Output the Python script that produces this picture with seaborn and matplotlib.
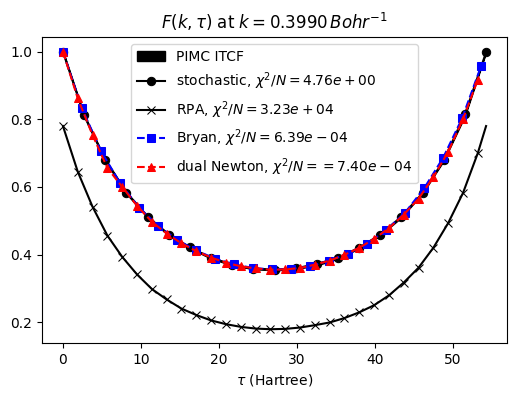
import numpy as np
import pandas as pd
import matplotlib
matplotlib.use("Agg")
import matplotlib.pyplot as plt
import seaborn as sns

# stochastic / PIMC grid (21 points)
tau_stoch = [0.0, 2.71, 5.43, 8.14, 10.85, 13.57, 16.28, 18.99, 21.71, 24.42, 27.13,
             29.84, 32.56, 35.27, 37.98, 40.70, 43.41, 46.12, 48.84, 51.55, 54.26]
F_stoch = [1.000, 0.812, 0.679, 0.582, 0.511, 0.458, 0.421, 0.390, 0.369, 0.358, 0.355,
           0.359, 0.372, 0.390, 0.420, 0.459, 0.512, 0.582, 0.679, 0.815, 0.998]
F_pimc = [1.000, 0.812, 0.680, 0.583, 0.512, 0.459, 0.420, 0.390, 0.370, 0.359, 0.355,
          0.359, 0.370, 0.390, 0.420, 0.459, 0.512, 0.583, 0.680, 0.812, 1.000]

# RPA (markers on a 1.9 grid, line closes at beta)
tau_rpa = [0.0, 1.9, 3.8, 5.7, 7.6, 9.5, 11.4, 13.3, 15.2, 17.1, 19.0, 20.9, 22.8, 24.7,
           26.6, 28.5, 30.4, 32.3, 34.2, 36.1, 38.0, 39.9, 41.8, 43.7, 45.6, 47.5, 49.4,
           51.3, 53.2, 54.26]
F_rpa = [0.780, 0.645, 0.541, 0.456, 0.393, 0.341, 0.298, 0.267, 0.240, 0.221, 0.205,
         0.194, 0.186, 0.181, 0.179, 0.180, 0.184, 0.191, 0.199, 0.212, 0.229, 0.250,
         0.279, 0.317, 0.361, 0.420, 0.493, 0.582, 0.700, 0.780]

# Bryan MaxEnt (23 points)
tau_bryan = [0.0, 2.44, 4.88, 7.31, 9.75, 12.19, 14.63, 17.06, 19.50, 21.94, 24.38, 26.82,
             29.25, 31.69, 34.13, 36.57, 39.00, 41.44, 43.88, 46.32, 48.75, 51.19, 53.63]
F_bryan = [1.000, 0.832, 0.706, 0.612, 0.539, 0.485, 0.444, 0.412, 0.388, 0.371, 0.360,
           0.356, 0.357, 0.365, 0.382, 0.403, 0.432, 0.472, 0.524, 0.596, 0.686, 0.803, 0.958]

# dual Newton (29 points)
tau_dual = [0.0, 1.9, 3.8, 5.7, 7.6, 9.5, 11.4, 13.3, 15.2, 17.1, 19.0, 20.9, 22.8, 24.7,
            26.6, 28.5, 30.4, 32.3, 34.2, 36.1, 38.0, 39.9, 41.8, 43.7, 45.6, 47.5, 49.4,
            51.3, 53.2]
F_dual = [1.000, 0.862, 0.753, 0.656, 0.600, 0.544, 0.497, 0.462, 0.433, 0.410, 0.391,
          0.376, 0.365, 0.359, 0.355, 0.356, 0.360, 0.370, 0.382, 0.399, 0.420, 0.446,
          0.478, 0.518, 0.565, 0.629, 0.704, 0.800, 0.917]

labels = ["PIMC ITCF",
          r"stochastic, $\chi^2/N = 4.76e+00$",
          r"RPA, $\chi^2/N = 3.23e+04$",
          r"Bryan, $\chi^2/N = 6.39e-04$",
          r"dual Newton, $\chi^2/N = = 7.40e-04$"]

fig, ax = plt.subplots(figsize=(5.16, 3.99), dpi=100)
fig.subplots_adjust(left=0.081, right=0.983, top=0.907, bottom=0.140)

pimc = np.array(F_pimc)
ax.fill_between(tau_stoch, pimc - 0.002, pimc + 0.002, color="k", label=labels[0])

sns.lineplot(x=tau_stoch, y=F_stoch, ax=ax, color="k", linestyle="-", marker="o",
             markersize=6, markeredgecolor="k", label=labels[1], sort=False)
sns.lineplot(x=tau_rpa, y=F_rpa, ax=ax, color="k", linestyle="-", marker="x",
             markersize=6, markeredgecolor="k", markevery=list(range(len(tau_rpa) - 1)),
             label=labels[2], sort=False)
sns.lineplot(x=tau_bryan, y=F_bryan, ax=ax, color="b", linestyle="--", marker="s",
             markersize=6, markeredgecolor="b", label=labels[3], sort=False)
sns.lineplot(x=tau_dual, y=F_dual, ax=ax, color="r", linestyle="--", marker="^",
             markersize=6, markeredgecolor="r", label=labels[4], sort=False)

ax.set_title(r"$F(k, \tau)$ at $k = 0.3990\,Bohr^{-1}$")
ax.set_xlabel(r"$\tau$ (Hartree)")
ax.set_ylabel("")
ax.set_xticks([0, 10, 20, 30, 40, 50])
ax.set_yticks([0.2, 0.4, 0.6, 0.8, 1.0])
ax.legend(loc="upper center")

fig.savefig("out.png", dpi=100)
